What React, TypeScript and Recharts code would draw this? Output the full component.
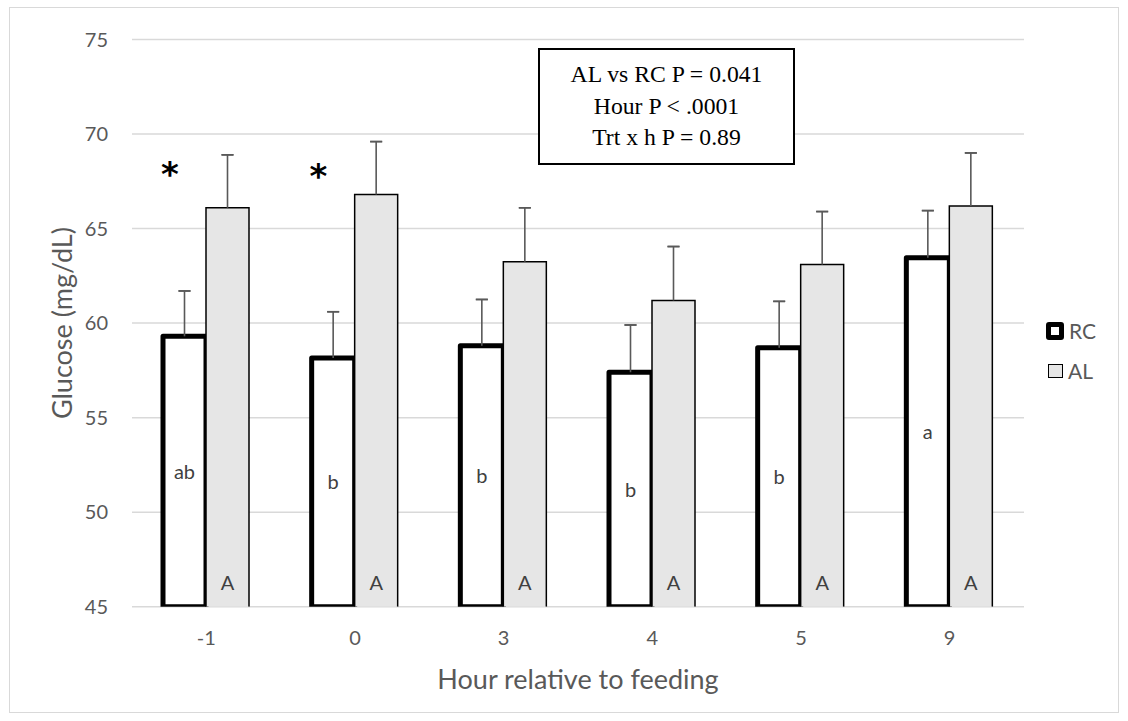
import React from 'react';
import {
  ComposedChart,
  Bar,
  XAxis,
  YAxis,
  CartesianGrid,
  ErrorBar,
  LabelList,
  ReferenceDot,
  Legend,
  Label,
} from 'recharts';

// ---- data ----
const hours = ['-1', '0', '3', '4', '5', '9'];
const rcMeans = [59.3, 58.15, 58.8, 57.4, 58.7, 63.45];
const alMeans = [66.1, 66.8, 63.25, 61.2, 63.1, 66.2];
const rcSE = [2.4, 2.45, 2.45, 2.5, 2.45, 2.5];
const alSE = [2.8, 2.8, 2.85, 2.85, 2.8, 2.8];
const rcLetters = ['ab', 'b', 'b', 'b', 'b', 'a'];
const alLetters = ['A', 'A', 'A', 'A', 'A', 'A'];
const starHours = ['-1', '0'];
const starLevels = [68.1, 68.0];
const yTicks = [45, 50, 55, 60, 65, 70, 75];
const statsLines = ['AL vs RC P = 0.041', 'Hour P < .0001', 'Trt x h P = 0.89'];
const seriesNames = ['RC', 'AL'];

const data = hours.map((h, i) => ({
  hour: h,
  RC: rcMeans[i],
  AL: alMeans[i],
  rcLine: [0, rcSE[i]],
  rcCap: [-rcSE[i], rcSE[i]],
  alLine: [0, alSE[i]],
  alCap: [-alSE[i], alSE[i]],
  rcLetter: rcLetters[i],
  alLetter: alLetters[i],
}));

const AXIS_GRAY = '#595959';
const FONT = 'Lato, "Open Sans", sans-serif';

const ALShape = (props: any) => {
  const { x, y, width, height } = props;
  return (
    <g>
      <rect x={x} y={y} width={width} height={height} fill="#e6e6e6" />
      <path
        d={`M${x},${y + height}V${y}H${x + width}V${y + height}`}
        fill="none"
        stroke="#000"
        strokeWidth={1.5}
      />
    </g>
  );
};

const YTitle = (props: any) => {
  const vb = props.viewBox || {};
  const cx = (vb.x ?? 0) + 62;
  const cy = (vb.y ?? 0) + (vb.height ?? 0) / 2;
  return (
    <text
      x={cx}
      y={cy}
      transform={`rotate(-90, ${cx}, ${cy})`}
      textAnchor="middle"
      dominantBaseline="central"
      fill={AXIS_GRAY}
      fontSize={27}
      fontFamily={FONT}
    >
      Glucose (mg/dL)
    </text>
  );
};

const StarShape = (props: any) => {
  const { cx, cy } = props;
  return (
    <text
      x={cx - 36.5}
      y={cy + 16}
      textAnchor="middle"
      fontSize={34}
      fontWeight="bold"
      fontFamily='"DejaVu Sans", sans-serif'
      fill="#000"
    >
      *
    </text>
  );
};

const LegendContent = (props: any) => {
  const payload: any[] = props.payload || [];
  const ordered = seriesNames
    .map((n) => payload.find((p) => p.value === n || p.dataKey === n))
    .filter(Boolean);
  return (
    <div style={{ fontFamily: FONT, fontSize: 21, color: AXIS_GRAY }}>
      {ordered.map((entry: any) => {
        const isRC = entry.value === 'RC';
        return (
          <div
            key={entry.value}
            style={{ display: 'flex', alignItems: 'center', height: 40.3 }}
          >
            <span
              style={{
                display: 'inline-block',
                boxSizing: 'border-box',
                width: isRC ? 18 : 15,
                height: isRC ? 18 : 14,
                marginLeft: isRC ? 0 : 2,
                border: isRC ? '5px solid #000' : '1.5px solid #000',
                borderRadius: isRC ? 3 : 0,
                background: isRC ? '#fff' : '#e6e6e6',
              }}
            />
            <span style={{ marginLeft: 5, lineHeight: '21px' }}>{entry.value}</span>
          </div>
        );
      })}
    </div>
  );
};

export default function App() {
  return (
    <div
      style={{
        position: 'absolute',
        left: 0,
        top: 0,
        width: 1128,
        height: 721,
        background: '#fff',
      }}
    >
      <div
        style={{
          position: 'absolute',
          left: 9,
          top: 7,
          width: 1110,
          height: 706,
          border: '1px solid #d9d9d9',
          boxSizing: 'border-box',
        }}
      />
      <ComposedChart
        width={1128}
        height={721}
        data={data}
        margin={{ top: 39.5, right: 104, bottom: 24.3, left: 0 }}
        barGap={0}
        barSize={43}
      >
        <CartesianGrid vertical={false} stroke="#d9d9d9" strokeWidth={1.5} />
        <XAxis
          dataKey="hour"
          axisLine={false}
          tickLine={false}
          tickSize={0}
          tickMargin={24}
          height={90}
          interval={0}
          tick={{ fill: AXIS_GRAY, fontSize: 20, fontFamily: FONT }}
        >
          <Label
            value="Hour relative to feeding"
            position="insideBottom"
            offset={8}
            fill={AXIS_GRAY}
            fontSize={27}
            fontFamily={FONT}
          />
        </XAxis>
        <YAxis
          domain={[45, 75]}
          ticks={yTicks}
          allowDataOverflow
          width={132}
          axisLine={false}
          tickLine={false}
          tickSize={0}
          tickMargin={24}
          tick={{ fill: AXIS_GRAY, fontSize: 20, fontFamily: FONT }}
        >
          <Label content={YTitle} />
        </YAxis>
        <Legend
          layout="horizontal"
          align="center"
          verticalAlign="middle"
          content={LegendContent}
          wrapperStyle={{ left: 1046, top: 310.5, width: 80, right: 'auto', bottom: 'auto' }}
        />
        <Bar
          dataKey="RC"
          name="RC"
          fill="#ffffff"
          stroke="#000"
          strokeWidth={5}
          strokeLinejoin="round"
          isAnimationActive={false}
        >
          <ErrorBar dataKey="rcLine" direction="y" width={0} stroke={AXIS_GRAY} strokeWidth={1.6} />
          <ErrorBar dataKey="rcCap" direction="y" width={6} stroke={AXIS_GRAY} strokeWidth={1.6} />
          <LabelList
            dataKey="rcLetter"
            position="center"
            fill="#404040"
            fontSize={20}
            fontFamily={FONT}
          />
        </Bar>
        <Bar dataKey="AL" name="AL" fill="#e6e6e6" shape={ALShape} isAnimationActive={false}>
          <ErrorBar dataKey="alLine" direction="y" width={0} stroke={AXIS_GRAY} strokeWidth={1.6} />
          <ErrorBar dataKey="alCap" direction="y" width={6} stroke={AXIS_GRAY} strokeWidth={1.6} />
          <LabelList
            dataKey="alLetter"
            position="insideBottom"
            offset={17}
            fill="#404040"
            fontSize={20}
            fontFamily={FONT}
          />
        </Bar>
        {starHours.map((h, i) => (
          <ReferenceDot
            key={h}
            x={h}
            y={starLevels[i]}
            r={0}
            ifOverflow="visible"
            shape={StarShape}
          />
        ))}
      </ComposedChart>
      <div
        style={{
          position: 'absolute',
          left: 538,
          top: 48,
          width: 257,
          height: 117,
          border: '2px solid #000',
          boxSizing: 'border-box',
          background: '#fff',
          display: 'flex',
          flexDirection: 'column',
          justifyContent: 'center',
          alignItems: 'center',
          fontFamily: '"Liberation Serif", "Times New Roman", serif',
          fontSize: 23.7,
          lineHeight: '31.5px',
          color: '#000',
        }}
      >
        {statsLines.map((t) => (
          <div key={t}>{t}</div>
        ))}
      </div>
    </div>
  );
}
